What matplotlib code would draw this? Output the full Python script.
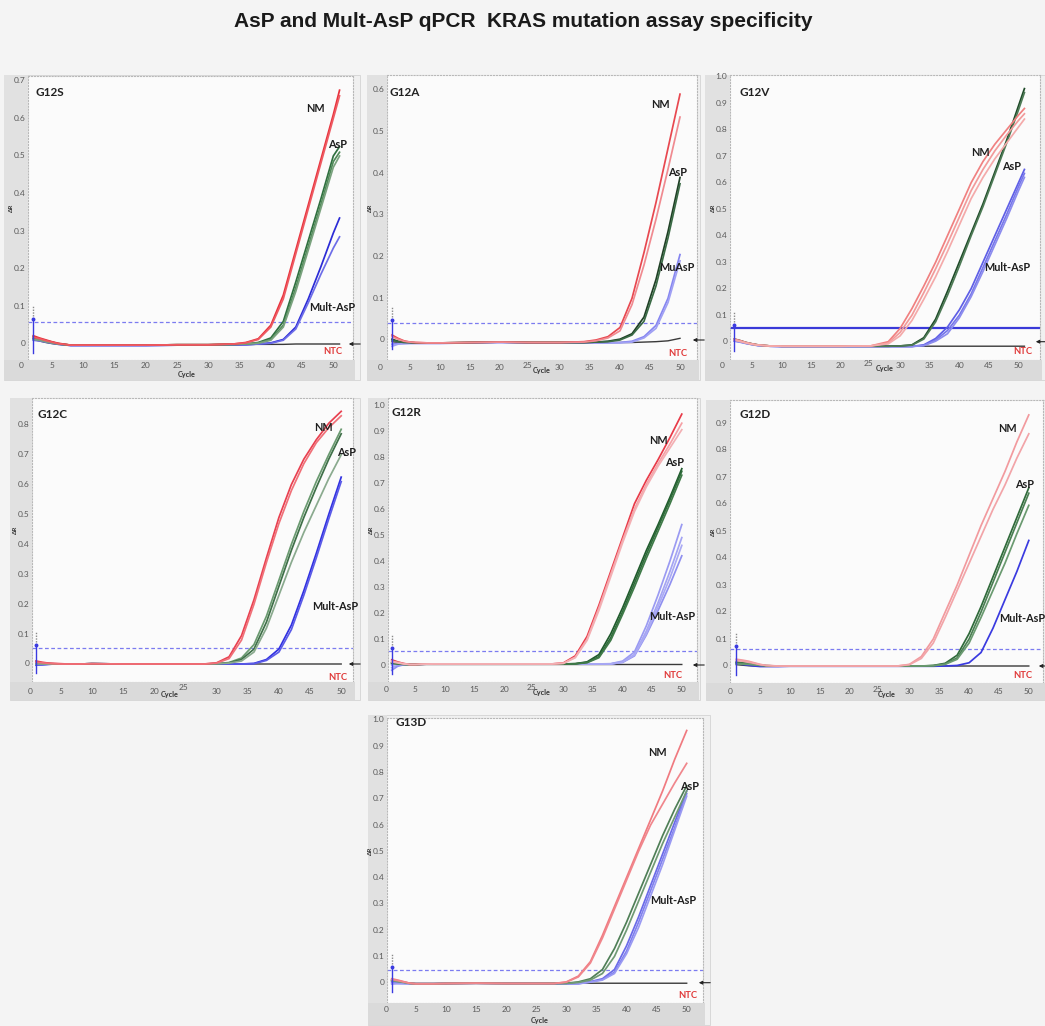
import matplotlib
matplotlib.use("Agg")
import matplotlib.pyplot as plt
from matplotlib.patches import Rectangle, FancyArrowPatch

# ------------------------------------------------------------------ data
TITLE = "AsP and Mult-AsP qPCR  KRAS mutation assay specificity"
PANELS = ["G12S", "G12A", "G12V", "G12C", "G12R", "G12D", "G13D"]
SERIES_LABELS = ["NM", "AsP", "Mult-AsP"]
G12A_MULT_LABEL = "MuAsP"
NTC_LABEL = "NTC"
X_TICKS = [0, 5, 10, 15, 20, 25, 30, 35, 40, 45, 50]

# ---- G12S
G12S_CYCLES = [2, 3, 4, 5, 6, 8, 10, 15, 20, 25, 30, 34, 36, 38, 40, 42, 44, 46, 48, 50, 51]
G12S_NM = [
    [0.022, 0.016, 0.011, 0.006, 0.002, -0.003, -0.003, -0.003, -0.003, -0.002, -0.002, 0.000, 0.004, 0.014, 0.050, 0.130, 0.250, 0.370, 0.490, 0.610, 0.675],
    [0.018, 0.014, 0.009, 0.005, 0.001, -0.003, -0.003, -0.003, -0.003, -0.002, -0.002, 0.000, 0.003, 0.012, 0.045, 0.120, 0.240, 0.360, 0.480, 0.600, 0.660],
]
G12S_ASP = [
    [0.020, 0.014, 0.009, 0.005, 0.001, -0.003, -0.003, -0.003, -0.003, -0.002, -0.002, -0.001, 0.000, 0.004, 0.016, 0.060, 0.165, 0.275, 0.385, 0.500, 0.525],
    [0.016, 0.012, 0.008, 0.004, 0.000, -0.003, -0.003, -0.003, -0.003, -0.002, -0.002, -0.001, 0.000, 0.003, 0.012, 0.050, 0.150, 0.260, 0.370, 0.485, 0.510],
    [0.012, 0.010, 0.006, 0.003, 0.000, -0.003, -0.003, -0.003, -0.003, -0.002, -0.002, -0.001, 0.000, 0.002, 0.010, 0.045, 0.140, 0.250, 0.360, 0.470, 0.500],
]
G12S_MULT = [
    [0.015, 0.010, 0.006, 0.003, 0.000, -0.004, -0.004, -0.004, -0.004, -0.003, -0.003, -0.003, -0.002, 0.000, 0.003, 0.012, 0.045, 0.120, 0.205, 0.295, 0.335],
    [0.010, 0.008, 0.005, 0.002, -0.001, -0.004, -0.004, -0.004, -0.004, -0.003, -0.003, -0.003, -0.002, 0.000, 0.002, 0.010, 0.040, 0.110, 0.185, 0.255, 0.285],
]
G12S_NTC = [
    [0.012, 0.008, 0.004, 0.001, -0.001, -0.003, -0.003, -0.003, -0.003, -0.002, -0.002, -0.001, -0.001, -0.001, -0.001, -0.001, 0.000, 0.000, 0.000, 0.000, 0.000],
]
G12S_THRESHOLD = 0.058
G12S_YTICKS = [0, 0.1, 0.2, 0.3, 0.4, 0.5, 0.6, 0.7]

# ---- G12A
G12A_CYCLES = [2, 3, 4, 5, 6, 8, 10, 15, 20, 25, 30, 34, 36, 38, 40, 42, 44, 46, 48, 50]
G12A_NM = [
    [0.012, 0.004, -0.002, -0.005, -0.006, -0.007, -0.007, -0.006, -0.005, -0.006, -0.006, -0.004, 0.000, 0.008, 0.030, 0.100, 0.210, 0.330, 0.460, 0.590],
    [0.008, 0.002, -0.003, -0.005, -0.006, -0.007, -0.007, -0.006, -0.005, -0.006, -0.006, -0.005, -0.002, 0.005, 0.022, 0.085, 0.180, 0.290, 0.410, 0.535],
]
G12A_ASP = [
    [0.002, -0.003, -0.005, -0.006, -0.007, -0.007, -0.007, -0.006, -0.005, -0.006, -0.006, -0.006, -0.005, -0.003, 0.002, 0.015, 0.055, 0.145, 0.260, 0.390],
    [0.000, -0.004, -0.006, -0.006, -0.007, -0.007, -0.007, -0.006, -0.005, -0.006, -0.006, -0.006, -0.005, -0.004, 0.000, 0.012, 0.045, 0.130, 0.245, 0.375],
]
G12A_MULT = [
    [-0.010, -0.008, -0.008, -0.008, -0.008, -0.008, -0.008, -0.007, -0.006, -0.007, -0.007, -0.007, -0.007, -0.007, -0.006, -0.003, 0.008, 0.035, 0.100, 0.205],
    [-0.015, -0.010, -0.009, -0.008, -0.008, -0.008, -0.008, -0.007, -0.006, -0.007, -0.007, -0.007, -0.007, -0.007, -0.007, -0.005, 0.005, 0.028, 0.090, 0.190],
]
G12A_NTC = [
    [-0.004, -0.006, -0.007, -0.007, -0.007, -0.007, -0.007, -0.006, -0.005, -0.006, -0.006, -0.006, -0.006, -0.006, -0.006, -0.006, -0.005, -0.004, -0.002, 0.004],
]
G12A_THRESHOLD = 0.040
G12A_YTICKS = [0, 0.1, 0.2, 0.3, 0.4, 0.5, 0.6]

# ---- G12V
G12V_CYCLES = [2, 3, 4, 5, 6, 8, 10, 15, 20, 25, 28, 30, 32, 34, 36, 38, 40, 42, 44, 46, 48, 50, 51]
G12V_NM = [
    [0.010, 0.004, -0.003, -0.008, -0.012, -0.016, -0.017, -0.017, -0.017, -0.016, 0.000, 0.050, 0.125, 0.210, 0.300, 0.400, 0.500, 0.600, 0.680, 0.745, 0.800, 0.855, 0.880],
    [0.008, 0.002, -0.004, -0.009, -0.013, -0.016, -0.017, -0.017, -0.017, -0.016, -0.005, 0.035, 0.100, 0.185, 0.275, 0.370, 0.470, 0.570, 0.650, 0.720, 0.780, 0.835, 0.860],
    [0.006, 0.001, -0.005, -0.010, -0.013, -0.016, -0.017, -0.017, -0.017, -0.016, -0.008, 0.022, 0.080, 0.160, 0.245, 0.340, 0.440, 0.540, 0.620, 0.690, 0.750, 0.810, 0.840],
]
G12V_ASP = [
    [0.010, 0.004, -0.003, -0.008, -0.012, -0.016, -0.017, -0.017, -0.017, -0.017, -0.017, -0.016, -0.012, 0.015, 0.085, 0.190, 0.300, 0.410, 0.520, 0.640, 0.760, 0.890, 0.955],
    [0.008, 0.003, -0.004, -0.009, -0.013, -0.016, -0.017, -0.017, -0.017, -0.017, -0.017, -0.016, -0.013, 0.010, 0.075, 0.175, 0.285, 0.400, 0.510, 0.630, 0.750, 0.875, 0.940],
]
G12V_MULT = [
    [0.004, 0.000, -0.006, -0.010, -0.014, -0.017, -0.018, -0.018, -0.018, -0.018, -0.018, -0.018, -0.018, -0.012, 0.012, 0.055, 0.120, 0.200, 0.300, 0.400, 0.500, 0.600, 0.650],
    [0.003, -0.001, -0.006, -0.011, -0.014, -0.017, -0.018, -0.018, -0.018, -0.018, -0.018, -0.018, -0.018, -0.014, 0.006, 0.042, 0.100, 0.180, 0.280, 0.380, 0.480, 0.585, 0.635],
    [0.002, -0.002, -0.007, -0.011, -0.015, -0.017, -0.018, -0.018, -0.018, -0.018, -0.018, -0.018, -0.018, -0.015, 0.002, 0.030, 0.090, 0.170, 0.265, 0.365, 0.465, 0.570, 0.620],
]
G12V_NTC = [
    [0.008, 0.003, -0.004, -0.009, -0.013, -0.016, -0.017, -0.017, -0.017, -0.017, -0.017, -0.017, -0.017, -0.017, -0.017, -0.017, -0.017, -0.017, -0.017, -0.017, -0.017, -0.017, -0.017],
]
G12V_THRESHOLD = 0.053
G12V_YTICKS = [0, 0.1, 0.2, 0.3, 0.4, 0.5, 0.6, 0.7, 0.8, 0.9, 1.0]

# ---- G12C
G12C_CYCLES = [1, 2, 3, 4, 5, 6, 8, 10, 15, 20, 25, 28, 30, 32, 34, 36, 38, 40, 42, 44, 46, 48, 50]
G12C_NM = [
    [0.010, 0.006, 0.003, 0.002, 0.001, 0.000, 0.000, 0.001, 0.000, 0.000, 0.000, 0.000, 0.004, 0.024, 0.095, 0.215, 0.355, 0.490, 0.600, 0.685, 0.750, 0.805, 0.845],
    [0.006, 0.004, 0.002, 0.001, 0.000, 0.000, 0.000, 0.001, 0.000, 0.000, 0.000, 0.000, 0.003, 0.018, 0.080, 0.200, 0.340, 0.470, 0.580, 0.670, 0.740, 0.790, 0.830],
]
G12C_ASP = [
    [0.004, 0.002, 0.001, 0.000, 0.000, 0.000, 0.000, 0.001, 0.000, 0.000, 0.000, 0.000, 0.001, 0.005, 0.020, 0.065, 0.160, 0.280, 0.400, 0.510, 0.610, 0.700, 0.785],
    [0.002, 0.001, 0.000, 0.000, 0.000, 0.000, 0.000, 0.001, 0.000, 0.000, 0.000, 0.000, 0.001, 0.004, 0.015, 0.050, 0.140, 0.260, 0.380, 0.490, 0.590, 0.685, 0.770],
    [0.000, 0.000, 0.000, 0.000, 0.000, 0.000, 0.000, 0.001, 0.000, 0.000, 0.000, 0.000, 0.001, 0.003, 0.010, 0.040, 0.120, 0.230, 0.340, 0.440, 0.530, 0.620, 0.700],
]
G12C_MULT = [
    [-0.002, -0.002, -0.001, 0.000, 0.000, 0.000, 0.000, 0.001, 0.000, 0.000, 0.000, 0.000, 0.000, 0.000, 0.000, 0.002, 0.015, 0.050, 0.130, 0.245, 0.370, 0.500, 0.625],
    [-0.004, -0.003, -0.001, 0.000, 0.000, 0.000, 0.000, 0.001, 0.000, 0.000, 0.000, 0.000, 0.000, 0.000, 0.000, 0.001, 0.012, 0.040, 0.115, 0.230, 0.355, 0.485, 0.610],
]
G12C_NTC = [
    [0.008, 0.004, 0.002, 0.001, 0.000, 0.000, 0.000, 0.001, 0.000, 0.000, 0.000, 0.000, 0.000, 0.000, 0.000, 0.000, 0.000, 0.000, 0.000, 0.000, 0.000, 0.000, 0.000],
]
G12C_THRESHOLD = 0.052
G12C_YTICKS = [0, 0.1, 0.2, 0.3, 0.4, 0.5, 0.6, 0.7, 0.8]

# ---- G12R
G12R_CYCLES = [1, 2, 3, 4, 5, 6, 8, 10, 15, 20, 25, 28, 30, 32, 34, 36, 38, 40, 42, 44, 46, 48, 50]
G12R_NM = [
    [0.020, 0.012, 0.006, 0.002, 0.002, 0.003, 0.004, 0.004, 0.004, 0.004, 0.004, 0.004, 0.008, 0.035, 0.110, 0.230, 0.360, 0.490, 0.620, 0.710, 0.790, 0.875, 0.965],
    [0.015, 0.010, 0.005, 0.002, 0.002, 0.003, 0.004, 0.004, 0.004, 0.004, 0.004, 0.004, 0.007, 0.030, 0.100, 0.220, 0.350, 0.480, 0.600, 0.695, 0.775, 0.850, 0.930],
    [0.012, 0.008, 0.004, 0.002, 0.002, 0.003, 0.004, 0.004, 0.004, 0.004, 0.004, 0.004, 0.006, 0.028, 0.095, 0.210, 0.340, 0.470, 0.590, 0.685, 0.765, 0.835, 0.905],
]
G12R_ASP = [
    [0.010, 0.006, 0.003, 0.002, 0.002, 0.003, 0.004, 0.004, 0.004, 0.004, 0.004, 0.004, 0.004, 0.005, 0.012, 0.040, 0.120, 0.220, 0.330, 0.440, 0.540, 0.645, 0.755],
    [0.008, 0.005, 0.003, 0.002, 0.002, 0.003, 0.004, 0.004, 0.004, 0.004, 0.004, 0.004, 0.004, 0.005, 0.010, 0.032, 0.105, 0.205, 0.315, 0.425, 0.530, 0.635, 0.745],
    [0.006, 0.004, 0.002, 0.002, 0.002, 0.003, 0.004, 0.004, 0.004, 0.004, 0.004, 0.004, 0.004, 0.004, 0.009, 0.028, 0.095, 0.195, 0.300, 0.410, 0.515, 0.620, 0.730],
]
G12R_MULT = [
    [0.000, 0.002, 0.003, 0.003, 0.003, 0.003, 0.004, 0.004, 0.004, 0.004, 0.004, 0.004, 0.004, 0.004, 0.004, 0.004, 0.005, 0.015, 0.050, 0.150, 0.270, 0.400, 0.540],
    [-0.010, -0.002, 0.002, 0.003, 0.003, 0.003, 0.004, 0.004, 0.004, 0.004, 0.004, 0.004, 0.004, 0.004, 0.004, 0.004, 0.004, 0.012, 0.040, 0.130, 0.240, 0.360, 0.490],
    [-0.020, -0.005, 0.001, 0.003, 0.003, 0.003, 0.004, 0.004, 0.004, 0.004, 0.004, 0.004, 0.004, 0.004, 0.004, 0.004, 0.004, 0.010, 0.035, 0.115, 0.210, 0.310, 0.420],
    [0.005, 0.003, 0.003, 0.003, 0.003, 0.003, 0.004, 0.004, 0.004, 0.004, 0.004, 0.004, 0.004, 0.004, 0.004, 0.004, 0.004, 0.011, 0.038, 0.120, 0.225, 0.335, 0.460],
]
G12R_NTC = [
    [0.010, 0.006, 0.003, 0.002, 0.002, 0.002, 0.002, 0.002, 0.002, 0.002, 0.002, 0.002, 0.002, 0.002, 0.002, 0.002, 0.002, 0.002, 0.002, 0.002, 0.002, 0.002, 0.002],
]
G12R_THRESHOLD = 0.055
G12R_YTICKS = [0, 0.1, 0.2, 0.3, 0.4, 0.5, 0.6, 0.7, 0.8, 0.9, 1.0]

# ---- G12D
G12D_CYCLES = [1, 2, 3, 4, 5, 6, 8, 10, 15, 20, 25, 28, 30, 32, 34, 36, 38, 40, 42, 44, 46, 48, 50]
G12D_NM = [
    [0.025, 0.022, 0.018, 0.012, 0.006, 0.002, 0.000, 0.000, 0.000, 0.000, 0.000, 0.000, 0.006, 0.035, 0.100, 0.200, 0.300, 0.410, 0.520, 0.620, 0.720, 0.830, 0.930],
    [0.020, 0.018, 0.014, 0.010, 0.005, 0.002, 0.000, 0.000, 0.000, 0.000, 0.000, 0.000, 0.005, 0.028, 0.085, 0.180, 0.280, 0.380, 0.480, 0.580, 0.670, 0.770, 0.860],
]
G12D_ASP = [
    [0.015, 0.012, 0.010, 0.007, 0.004, 0.001, 0.000, 0.000, 0.000, 0.000, 0.000, 0.000, 0.000, 0.000, 0.002, 0.010, 0.040, 0.120, 0.220, 0.330, 0.440, 0.550, 0.660],
    [0.012, 0.010, 0.008, 0.006, 0.003, 0.001, 0.000, 0.000, 0.000, 0.000, 0.000, 0.000, 0.000, 0.000, 0.001, 0.008, 0.030, 0.100, 0.200, 0.310, 0.420, 0.530, 0.640],
    [0.008, 0.007, 0.006, 0.004, 0.002, 0.001, 0.000, 0.000, 0.000, 0.000, 0.000, 0.000, 0.000, 0.000, 0.001, 0.006, 0.025, 0.085, 0.180, 0.280, 0.380, 0.490, 0.595],
]
G12D_MULT = [
    [0.010, 0.006, 0.003, 0.000, -0.002, -0.002, -0.002, -0.001, -0.001, -0.001, -0.001, -0.001, -0.001, -0.001, -0.001, 0.000, 0.002, 0.012, 0.050, 0.140, 0.245, 0.350, 0.465],
]
G12D_NTC = [
    [0.005, 0.003, 0.001, 0.000, 0.000, 0.000, 0.000, 0.000, 0.000, 0.000, 0.000, 0.000, 0.000, 0.000, 0.000, 0.000, 0.000, 0.000, 0.000, 0.000, 0.000, 0.000, 0.000],
]
G12D_THRESHOLD = 0.062
G12D_YTICKS = [0, 0.1, 0.2, 0.3, 0.4, 0.5, 0.6, 0.7, 0.8, 0.9]

# ---- G13D
G13D_CYCLES = [1, 2, 3, 4, 5, 6, 8, 10, 15, 20, 25, 28, 30, 32, 34, 36, 38, 40, 42, 44, 46, 48, 50]
G13D_NM = [
    [0.015, 0.010, 0.004, -0.002, -0.004, -0.004, -0.004, -0.003, -0.002, -0.003, -0.003, -0.003, 0.003, 0.025, 0.080, 0.180, 0.290, 0.400, 0.510, 0.620, 0.730, 0.850, 0.960],
    [0.012, 0.008, 0.003, -0.002, -0.004, -0.004, -0.004, -0.003, -0.002, -0.003, -0.003, -0.003, 0.002, 0.022, 0.075, 0.170, 0.280, 0.390, 0.500, 0.600, 0.680, 0.760, 0.835],
]
G13D_ASP = [
    [0.010, 0.006, 0.002, -0.002, -0.004, -0.004, -0.004, -0.003, -0.002, -0.003, -0.003, -0.003, -0.002, 0.003, 0.015, 0.050, 0.130, 0.230, 0.340, 0.450, 0.560, 0.660, 0.750],
    [0.008, 0.004, 0.001, -0.003, -0.004, -0.004, -0.004, -0.003, -0.002, -0.003, -0.003, -0.003, -0.003, 0.001, 0.010, 0.035, 0.100, 0.200, 0.310, 0.420, 0.530, 0.630, 0.730],
]
G13D_MULT = [
    [0.005, 0.002, -0.001, -0.003, -0.004, -0.004, -0.004, -0.003, -0.002, -0.003, -0.003, -0.004, -0.004, -0.003, 0.004, 0.015, 0.050, 0.140, 0.250, 0.370, 0.490, 0.610, 0.730],
    [0.000, -0.002, -0.003, -0.004, -0.004, -0.004, -0.004, -0.003, -0.002, -0.003, -0.003, -0.004, -0.004, -0.004, 0.003, 0.012, 0.040, 0.120, 0.230, 0.350, 0.470, 0.590, 0.720],
    [-0.005, -0.004, -0.004, -0.004, -0.004, -0.004, -0.004, -0.003, -0.002, -0.003, -0.003, -0.004, -0.004, -0.004, 0.002, 0.010, 0.035, 0.110, 0.210, 0.330, 0.450, 0.580, 0.710],
]
G13D_NTC = [
    [0.012, 0.006, 0.001, -0.002, -0.003, -0.003, -0.003, -0.003, -0.002, -0.002, -0.002, -0.002, -0.002, -0.002, -0.002, -0.002, -0.002, -0.002, -0.002, -0.002, -0.002, -0.002, -0.002],
]
G13D_THRESHOLD = 0.048
G13D_YTICKS = [0, 0.1, 0.2, 0.3, 0.4, 0.5, 0.6, 0.7, 0.8, 0.9, 1.0]

DATA = {
    "G12S": (G12S_CYCLES, G12S_NM, G12S_ASP, G12S_MULT, G12S_NTC, G12S_THRESHOLD, G12S_YTICKS),
    "G12A": (G12A_CYCLES, G12A_NM, G12A_ASP, G12A_MULT, G12A_NTC, G12A_THRESHOLD, G12A_YTICKS),
    "G12V": (G12V_CYCLES, G12V_NM, G12V_ASP, G12V_MULT, G12V_NTC, G12V_THRESHOLD, G12V_YTICKS),
    "G12C": (G12C_CYCLES, G12C_NM, G12C_ASP, G12C_MULT, G12C_NTC, G12C_THRESHOLD, G12C_YTICKS),
    "G12R": (G12R_CYCLES, G12R_NM, G12R_ASP, G12R_MULT, G12R_NTC, G12R_THRESHOLD, G12R_YTICKS),
    "G12D": (G12D_CYCLES, G12D_NM, G12D_ASP, G12D_MULT, G12D_NTC, G12D_THRESHOLD, G12D_YTICKS),
    "G13D": (G13D_CYCLES, G13D_NM, G13D_ASP, G13D_MULT, G13D_NTC, G13D_THRESHOLD, G13D_YTICKS),
}

# ------------------------------------------------------------------ layout / style (pixels)
W, H = 1045, 1026
LAYOUT = {
    "G12S": dict(plot=(28, 76, 353, 360), frame=(4, 75, 360, 380), x0=20.8, sx=6.25, y0=344.0, sy=376.0,
                 tick_y=366, cycle=(187, 375), inline=False, name=(35, 93),
                 lab=[(315, 108), (338, 145), (332, 307)], ntc=(333, 352)),
    "G12A": dict(plot=(387, 75, 697, 360), frame=(367, 75, 700, 380), x0=380.0, sx=6.0, y0=340.0, sy=416.7,
                 tick_y=368, cycle=(542, 370), inline=True, name=(390, 93),
                 lab=[(660, 105), (678, 172), (677, 267)], ntc=(678, 353)),
    "G12V": dict(plot=(730, 75, 1040, 360), frame=(705, 75, 1045, 380), x0=722.5, sx=5.92, y0=341.7, sy=265.0,
                 tick_y=366, cycle=(885, 369), inline=True, name=(740, 92),
                 lab=[(980, 152), (1012, 167), (1007, 267)], ntc=(1023, 351)),
    "G12C": dict(plot=(32, 398, 353, 682), frame=(10, 398, 360, 700), x0=29.7, sx=6.23, y0=664.0, sy=299.0,
                 tick_y=691, cycle=(170, 695), inline=True, name=(38, 415),
                 lab=[(323, 427), (347, 452), (335, 607)], ntc=(338, 678)),
    "G12R": dict(plot=(388, 398, 697, 682), frame=(368, 398, 700, 700), x0=385.8, sx=5.92, y0=665.0, sy=260.0,
                 tick_y=690, cycle=(542, 693), inline=True, name=(392, 413),
                 lab=[(658, 440), (675, 463), (672, 617)], ntc=(673, 675)),
    "G12D": dict(plot=(730, 400, 1043, 683), frame=(706, 400, 1045, 700), x0=730.3, sx=5.97, y0=666.0, sy=270.0,
                 tick_y=692, cycle=(887, 695), inline=True, name=(740, 415),
                 lab=[(1007, 428), (1025, 485), (1022, 618)], ntc=(1023, 675)),
    "G13D": dict(plot=(387, 718, 703, 1003), frame=(368, 715, 710, 1025), x0=385.7, sx=6.02, y0=982.7, sy=262.7,
                 tick_y=1010, cycle=(540, 1021), inline=False, name=(395, 723),
                 lab=[(657, 752), (690, 787), (673, 900)], ntc=(688, 995)),
}
COLORS = {
    "G12S": (["#e8323c", "#ee5a62"], ["#2f6f3f", "#4f8a58", "#7aa27e"], ["#2b2bd6", "#6d6de8"]),
    "G12A": (["#e84850", "#f08a90"], ["#1f3f25", "#3a6a45"], ["#8585f0", "#a0a0f4"]),
    "G12V": (["#f08080", "#f29a9a", "#f4aaaa"], ["#1e4a28", "#4d7a55"], ["#5e5ee6", "#7676ea", "#8c8cee"]),
    "G12C": (["#e84050", "#f07078"], ["#6a9a70", "#3f7048", "#8aaa8e"], ["#3030e0", "#5a5ae8"]),
    "G12R": (["#e83a48", "#f5a0a5", "#f3b0b4"], ["#1f5a2c", "#2e6b3a", "#3f7a48"],
             ["#9a9af2", "#a4a4f3", "#9090f0", "#aaaaf4"]),
    "G12D": (["#f29a9e", "#f2a4a8"], ["#2f6a3a", "#4a7f52", "#6a9a70"], ["#3a3ae0"]),
    "G13D": (["#f07a80", "#f0868c"], ["#4f7f57", "#6f9a74"], ["#6a6ae8", "#8080ee", "#9a9af2"]),
}

FIG_BG = "#f4f4f4"
PLOT_BG = "#fbfbfb"
STRIP = "#e1e1e1"
BAND = "#dadada"
FONT = ["Lato", "DejaVu Sans"]

fig = plt.figure(figsize=(W / 100, H / 100), dpi=100, facecolor=FIG_BG)


def fx(x):
    return x / W


def fy(y):
    return 1 - y / H


def frect(x0, y0, x1, y1, **kw):
    fig.add_artist(Rectangle((fx(x0), fy(y1)), (x1 - x0) / W, (y1 - y0) / H,
                             transform=fig.transFigure, **kw))


fig.text(fx(523), fy(22), TITLE, ha="center", va="center", fontsize=15, fontweight="bold",
         color="#1a1a1a", family=["Liberation Sans Narrow", "Liberation Sans", "DejaVu Sans"])

for name in PANELS:
    cyc, nm, asp, mult, ntc, thr, yticks = DATA[name]
    L = LAYOUT[name]
    pl, pt, pr, pb = L["plot"]
    fl, ft, fr, fb = L["frame"]
    x0, sx, y0, sy = L["x0"], L["sx"], L["y0"], L["sy"]

    # panel frame
    frect(fl, ft, fr, fb, facecolor="#f0f0f0", edgecolor="#d4d4d4", lw=0.6, zorder=0)
    frect(fl, ft, pl, fb, facecolor=STRIP, edgecolor="none", zorder=0.5)
    frect(fl, pb, pr + 2, fb, facecolor=BAND, edgecolor="none", zorder=0.5)

    ax = fig.add_axes([fx(pl), fy(pb), (pr - pl) / W, (pb - pt) / H])
    ax.set_facecolor(PLOT_BG)
    ax.set_xlim((pl - x0) / sx, (pr - x0) / sx)
    ax.set_ylim((y0 - pb) / sy, (y0 - pt) / sy)
    ax.set_xticks([])
    ax.set_yticks([])
    for sp in ax.spines.values():
        sp.set_linestyle(":")
        sp.set_color("#b8b8b8")
        sp.set_linewidth(0.8)

    # threshold line
    if name == "G12V":
        ax.axhline(thr, color="#3a3ad8", lw=1.6, zorder=2)
    else:
        ax.axhline(thr, color="#7b7bf0", lw=0.9, ls=(0, (3, 2)), zorder=2)

    # threshold marker at first cycle
    c0 = cyc[0]
    ax.plot([c0, c0], [thr + 4 / sy, -(9 / sy)], color="#3a3ae0", lw=1.0, clip_on=False, zorder=4)
    ax.plot([c0, c0], [thr + 6 / sy, thr + 16 / sy], color="#8a8a8a", lw=1.0, ls=(0, (1, 1)),
            clip_on=False, zorder=4)
    ax.plot([c0], [thr + 3 / sy], marker="o", ms=1.8, color="#3a3ae0", clip_on=False, zorder=4)

    cn, ca, cm = COLORS[name]
    for curve in ntc:
        ax.plot(cyc, curve, color="#3a3a3a", lw=1.0, zorder=3)
    for curve, col in zip(mult, cm):
        ax.plot(cyc, curve, color=col, lw=1.25, zorder=3, solid_joinstyle="round")
    for curve, col in zip(asp, ca):
        ax.plot(cyc, curve, color=col, lw=1.25, zorder=3, solid_joinstyle="round")
    for curve, col in zip(nm, cn):
        ax.plot(cyc, curve, color=col, lw=1.25, zorder=3, solid_joinstyle="round")

    # tick labels
    for v in yticks:
        lab = "0" if v == 0 else f"{v:.1f}"
        fig.text(fx(pl - 2.5), fy(y0 - sy * v), lab, ha="right", va="center", fontsize=6,
                 color="#5a5a5a", family=FONT)
    for c in X_TICKS:
        dx, dy = 0, 0
        if L["inline"] and c == 25:
            dx, dy = -2, -3
        fig.text(fx(x0 + sx * c + dx), fy(L["tick_y"] + dy), str(c), ha="center", va="center",
                 fontsize=6, color="#5a5a5a", family=FONT)
    fig.text(fx(L["cycle"][0]), fy(L["cycle"][1]), "Cycle", ha="center", va="center",
             fontsize=5.2, color="#333333", fontweight="bold", family=FONT)
    fig.text(fx(pl - 17), fy((pt + pb) / 2 - 10), "ΔR", ha="center", va="center", rotation=90,
             fontsize=4.5, color="#333333", fontweight="bold", family=FONT)

    # labels
    fig.text(fx(L["name"][0]), fy(L["name"][1]), name, ha="left", va="center", fontsize=8.5,
             fontweight="bold", color="#222222", family=FONT)
    labels = list(SERIES_LABELS)
    if name == "G12A":
        labels[2] = G12A_MULT_LABEL
    for (lx, ly), text in zip(L["lab"], labels):
        fig.text(fx(lx), fy(ly), text, ha="center", va="center", fontsize=7.8,
                 fontweight="bold", color="#1e1e1e", family=FONT)
    fig.text(fx(L["ntc"][0]), fy(L["ntc"][1]), NTC_LABEL, ha="center", va="center", fontsize=6.8,
             fontweight="bold", color="#e03a3a", family=FONT)

    # NTC arrow at the right
    fig.add_artist(FancyArrowPatch((fx(pr + 10), fy(y0)), (fx(pr - 7), fy(y0)),
                                   transform=fig.transFigure, arrowstyle="-|>", mutation_scale=5,
                                   color="#222222", lw=0.8, zorder=6))

fig.savefig("out.png", dpi=100, facecolor=FIG_BG)
